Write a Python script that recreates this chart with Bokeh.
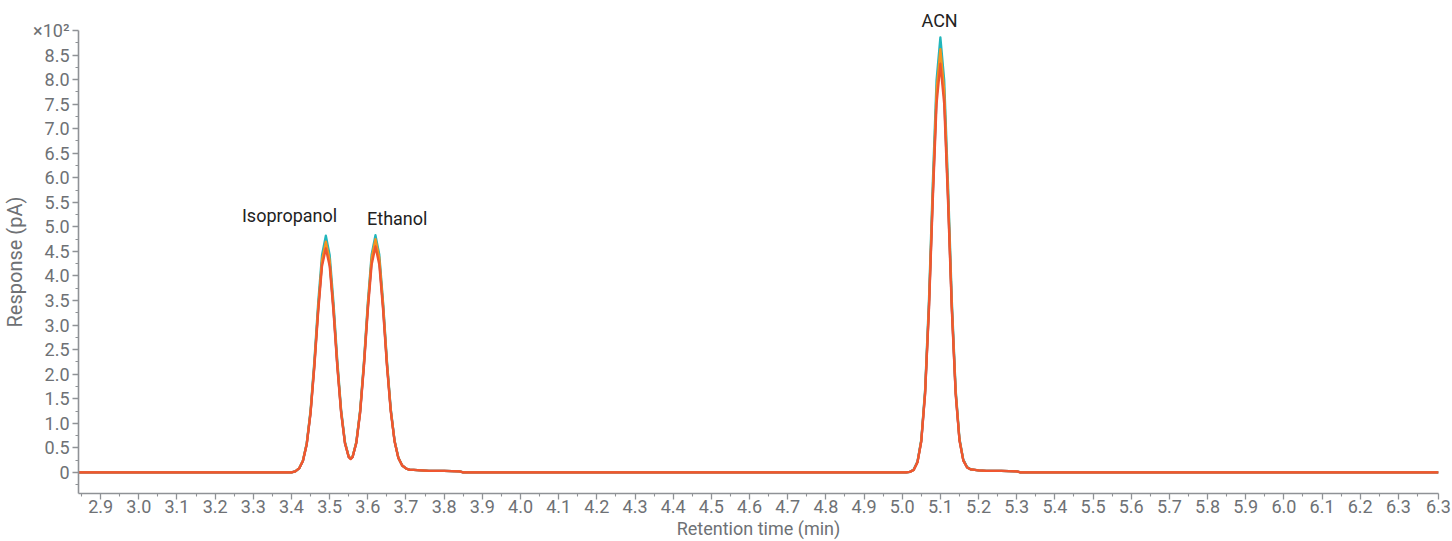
from bokeh.plotting import figure
from bokeh.models import Range1d, FixedTicker, Label, Title, ColumnDataSource
from bokeh.embed import file_html
from bokeh.resources import INLINE

# ---------------- data (retention time in min, response in x10^2 pA) ----------------
rt = [2.842,
      3.38, 3.39, 3.40, 3.41, 3.42, 3.43, 3.44, 3.45, 3.46, 3.47, 3.48, 3.49, 3.50, 3.51,
      3.52, 3.53, 3.54, 3.55, 3.555, 3.56, 3.57, 3.58, 3.59, 3.60, 3.61, 3.62, 3.63, 3.64,
      3.65, 3.66, 3.67, 3.68, 3.69, 3.70, 3.71, 3.72, 3.74, 3.76, 3.80, 3.84, 3.85,
      4.98, 4.99, 5.00, 5.01, 5.02, 5.03, 5.04, 5.05, 5.06, 5.07, 5.08, 5.09, 5.10, 5.11,
      5.12, 5.13, 5.14, 5.15, 5.16, 5.17, 5.18, 5.19, 5.20, 5.22, 5.26, 5.30, 5.31,
      6.405]

run_teal = [0, 0, 0,
            0.00, 0.02, 0.08, 0.24, 0.60, 1.27, 2.28, 3.46, 4.43, 4.82, 4.43, 3.46, 2.28, 1.28, 0.63, 0.32,
            0.29,
            0.32, 0.63, 1.28, 2.28, 3.46, 4.44, 4.83, 4.44, 3.46, 2.28, 1.30, 0.65, 0.30, 0.14, 0.08, 0.05, 0.05,
            0.04, 0.03, 0.03, 0.02, 0,
            0, 0, 0, 0, 0.01, 0.06, 0.22, 0.67, 1.69, 3.50, 5.87, 7.99, 8.86, 7.99, 5.87, 3.50, 1.69, 0.69,
            0.26, 0.11, 0.06, 0.05, 0.04, 0.03, 0.03, 0.02, 0,
            0]

run_purple = [0, 0, 0,
              0.00, 0.02, 0.08, 0.23, 0.58, 1.22, 2.19, 3.33, 4.27, 4.64, 4.27, 3.33, 2.19, 1.23, 0.60, 0.31,
              0.28,
              0.31, 0.61, 1.24, 2.21, 3.36, 4.31, 4.68, 4.31, 3.36, 2.21, 1.27, 0.64, 0.30, 0.14, 0.08, 0.05, 0.05,
              0.04, 0.03, 0.03, 0.02, 0,
              0, 0, 0, 0, 0.01, 0.05, 0.21, 0.64, 1.62, 3.35, 5.61, 7.65, 8.48, 7.65, 5.61, 3.35, 1.62, 0.66,
              0.25, 0.10, 0.06, 0.05, 0.04, 0.03, 0.03, 0.02, 0,
              0]

run_orange = [0, 0, 0,
              0.00, 0.02, 0.08, 0.24, 0.59, 1.24, 2.22, 3.37, 4.32, 4.70, 4.32, 3.37, 2.22, 1.25, 0.61, 0.32,
              0.28,
              0.32, 0.62, 1.26, 2.24, 3.41, 4.37, 4.75, 4.37, 3.41, 2.24, 1.28, 0.64, 0.30, 0.14, 0.08, 0.05, 0.05,
              0.04, 0.03, 0.03, 0.02, 0,
              0, 0, 0, 0, 0.01, 0.05, 0.21, 0.65, 1.65, 3.40, 5.71, 7.78, 8.62, 7.78, 5.71, 3.40, 1.65, 0.67,
              0.25, 0.10, 0.06, 0.05, 0.04, 0.03, 0.03, 0.02, 0,
              0]

run_red = [0, 0, 0,
           0.00, 0.02, 0.08, 0.23, 0.57, 1.20, 2.15, 3.27, 4.20, 4.56, 4.20, 3.27, 2.15, 1.21, 0.59, 0.31,
           0.27,
           0.31, 0.60, 1.22, 2.17, 3.30, 4.23, 4.60, 4.23, 3.30, 2.17, 1.24, 0.63, 0.29, 0.14, 0.08, 0.05, 0.05,
           0.04, 0.03, 0.03, 0.02, 0,
           0, 0, 0, 0, 0.01, 0.05, 0.20, 0.63, 1.59, 3.29, 5.51, 7.50, 8.32, 7.50, 5.51, 3.29, 1.59, 0.65,
           0.24, 0.10, 0.06, 0.05, 0.04, 0.03, 0.03, 0.02, 0,
           0]

peak_names = ["Isopropanol", "Ethanol"]
peak_label_x = [3.395, 3.677]
peak_label_y = [5.23, 5.17]
top_peak_name = "ACN"

x_ticks = [2.9, 3.0, 3.1, 3.2, 3.3, 3.4, 3.5, 3.6, 3.7, 3.8, 3.9, 4.0, 4.1, 4.2, 4.3, 4.4,
           4.5, 4.6, 4.7, 4.8, 4.9, 5.0, 5.1, 5.2, 5.3, 5.4, 5.5, 5.6, 5.7, 5.8, 5.9, 6.0,
           6.1, 6.2, 6.3, 6.405]
x_tick_labels = ["2.9", "3.0", "3.1", "3.2", "3.3", "3.4", "3.5", "3.6", "3.7", "3.8", "3.9",
                 "4.0", "4.1", "4.2", "4.3", "4.4", "4.5", "4.6", "4.7", "4.8", "4.9", "5.0",
                 "5.1", "5.2", "5.3", "5.4", "5.5", "5.6", "5.7", "5.8", "5.9", "6.0", "6.1",
                 "6.2", "6.3", "6.3"]
y_ticks = [0, 0.5, 1.0, 1.5, 2.0, 2.5, 3.0, 3.5, 4.0, 4.5, 5.0, 5.5, 6.0, 6.5, 7.0, 7.5,
           8.0, 8.5, 9.0]
y_tick_labels = ["0", "0.5", "1.0", "1.5", "2.0", "2.5", "3.0", "3.5", "4.0", "4.5", "5.0",
                 "5.5", "6.0", "6.5", "7.0", "7.5", "8.0", "8.5", "\u00d710\u00b2"]

series_colors = ["#22b6bb", "#5b46a3", "#f6921e", "#ef5630"]

# ---------------- figure ----------------
FONT = "Roboto"
AX_COL = "#8f9296"
TXT_COL = "#6e7175"
FS = "18px"

p = figure(width=1452, height=541, output_backend="svg", toolbar_location=None,
           x_range=Range1d(2.842, 6.405), y_range=Range1d(-0.43, 9.0),
           min_border_left=77, min_border_right=14, min_border_top=30, min_border_bottom=48)
p.outline_line_color = None
p.xgrid.visible = False
p.ygrid.visible = False
p.background_fill_color = "white"
p.border_fill_color = "white"

src = ColumnDataSource(dict(rt=rt, teal=run_teal, purple=run_purple, orange=run_orange, red=run_red))
for col, c in zip(["teal", "purple", "orange", "red"], series_colors):
    p.line("rt", col, source=src, line_color=c, line_width=2.3, line_join="round")

# axes
xminor = [round(2.85 + 0.1 * i, 2) for i in range(36)]
yminor = [round(-0.25 + 0.5 * i, 2) for i in range(19)]
p.xaxis.ticker = FixedTicker(ticks=x_ticks, minor_ticks=xminor)
p.yaxis.ticker = FixedTicker(ticks=y_ticks, minor_ticks=yminor)
p.xaxis.major_label_overrides = {t: l for t, l in zip(x_ticks, x_tick_labels)}
p.yaxis.major_label_overrides = {t: l for t, l in zip(y_ticks, y_tick_labels)}

for ax in (p.xaxis[0], p.yaxis[0]):
    ax.axis_line_color = AX_COL
    ax.axis_line_width = 1.6
    ax.major_tick_line_color = AX_COL
    ax.minor_tick_line_color = AX_COL
    ax.major_tick_line_width = 1.3
    ax.minor_tick_line_width = 1.1
    ax.major_tick_in = 0
    ax.minor_tick_in = 0
    ax.major_tick_out = 6
    ax.minor_tick_out = 3
    ax.major_label_text_font = FONT
    ax.major_label_text_font_size = FS
    ax.major_label_text_color = TXT_COL
    ax.axis_label_text_font = FONT
    ax.axis_label_text_color = TXT_COL
    ax.axis_label_text_font_style = "normal"

p.xaxis.axis_label = "Retention time (min)"
p.yaxis.axis_label = "Response (pA)"
p.xaxis.axis_label_text_font_size = FS
p.yaxis.axis_label_text_font_size = "20px"
p.xaxis.major_label_standoff = 0
p.xaxis.axis_label_standoff = 2
p.yaxis.major_label_standoff = 3
p.yaxis.axis_label_standoff = 3

for name, lx, ly in zip(peak_names, peak_label_x, peak_label_y):
    p.add_layout(Label(x=lx, y=ly, text=name, text_align="center", text_baseline="middle",
                       text_font=FONT, text_font_size=FS, text_color="#222222"))

# peak name above the plotting frame (left-aligned title shifted over the peak)
acn = Title(text=top_peak_name, align="left", offset=843, standoff=0,
            text_font=FONT, text_font_size=FS, text_font_style="normal", text_color="#222222")
p.add_layout(acn, "above")

open("out.html", "w").write(file_html(p, INLINE))
